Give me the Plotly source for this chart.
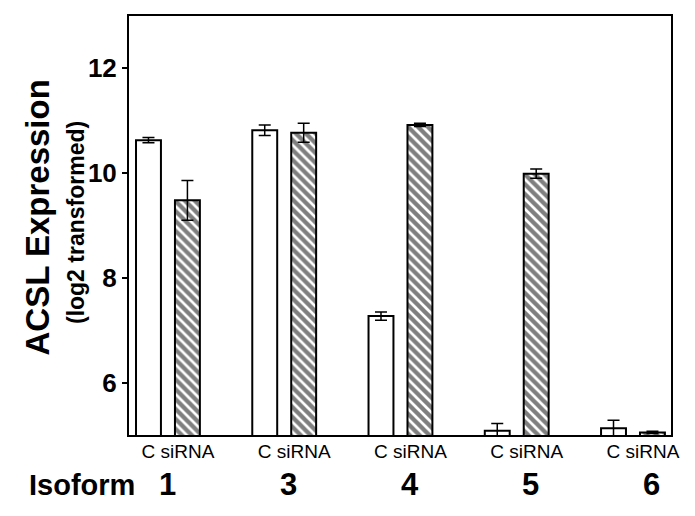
import plotly.graph_objects as go

isoforms = ["1", "3", "4", "5", "6"]
tick_text = ["C siRNA"] * 5
control_vals = [10.63, 10.82, 7.27, 5.08, 5.13]
control_err = [0.05, 0.10, 0.08, 0.14, 0.15]
sirna_vals = [9.48, 10.77, 10.92, 9.99, 5.05]
sirna_err = [0.38, 0.18, 0.03, 0.09, 0.02]
y_ticks = [6, 8, 10, 12]

FONT = "Liberation Sans, Arial, sans-serif"
x = list(range(len(isoforms)))

fig = go.Figure()
fig.add_trace(go.Bar(
    x=x, y=control_vals, name="C",
    marker=dict(color="white", line=dict(color="black", width=2)),
    error_y=dict(type="data", array=control_err, visible=True,
                 color="black", thickness=1.5, width=6),
))
fig.add_trace(go.Bar(
    x=x, y=sirna_vals, name="siRNA",
    marker=dict(color="white", line=dict(color="black", width=2),
                pattern=dict(shape="\\", fgcolor="black", bgcolor="white",
                             size=7, solidity=0.62)),
    error_y=dict(type="data", array=sirna_err, visible=True,
                 color="black", thickness=1.5, width=6),
))

# page body has an 8px default margin; size the figure so it fills 695x516
fig.update_layout(
    width=687, height=508,
    margin=dict(l=121, r=24, t=6, b=81),
    paper_bgcolor="white", plot_bgcolor="white",
    barmode="group", bargap=0.33, bargroupgap=0.36,
    showlegend=False,
    font=dict(family=FONT, color="black"),
)
fig.update_xaxes(
    range=[-0.335, 4.327], tickvals=x, ticktext=tick_text,
    showline=True, mirror=True, linecolor="black", linewidth=2,
    ticks="", showgrid=False, zeroline=False,
    tickfont=dict(size=19, family=FONT, color="black"),
    ticklabelshift=10, ticklabelstandoff=-2,
)
fig.update_yaxes(
    range=[5, 13], tickvals=y_ticks,
    showline=True, mirror=True, linecolor="black", linewidth=2,
    ticks="outside", ticklen=5, tickwidth=2, tickcolor="black",
    showgrid=False, zeroline=False,
    tickfont=dict(size=26, family="Liberation Sans", color="black", weight="bold"),
)

annotations = [
    dict(text="<b>ACSL Expression</b>", xref="paper", yref="paper",
         x=-0.168, y=0.519, xanchor="center", yanchor="middle",
         textangle=-90, showarrow=False, font=dict(size=33, family=FONT)),
    dict(text="<b>(log2 transformed)</b>", xref="paper", yref="paper",
         x=-0.098, y=0.508, xanchor="center", yanchor="middle",
         textangle=-90, showarrow=False, font=dict(size=23, family=FONT)),
    dict(text="<b>Isoform</b>", xref="paper", yref="paper",
         x=-0.0858, y=-0.119, xanchor="center", yanchor="middle",
         showarrow=False, font=dict(size=29, family=FONT)),
]
for i, lab in enumerate(isoforms):
    annotations.append(dict(
        text="<b>" + lab + "</b>", xref="x", yref="paper",
        x=x[i], y=-0.119, xanchor="center", yanchor="middle",
        xshift=4.75 * i, showarrow=False, font=dict(size=31, family=FONT)))
fig.update_layout(annotations=annotations)

fig.write_html("out.html")
